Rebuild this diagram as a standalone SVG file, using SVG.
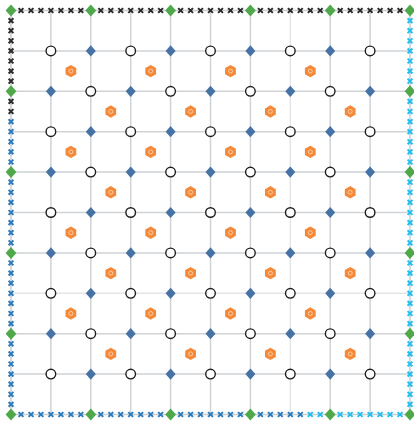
<svg xmlns="http://www.w3.org/2000/svg" xmlns:xlink="http://www.w3.org/1999/xlink" width="414" height="421" viewBox="0 0 414 421">
<style>
.grid line{stroke:#cfd3d6;stroke-width:1.5}
.grid line.lt{stroke:#e3e5e7}
.frame{fill:none;stroke:#c9cdd0;stroke-width:1.5}
.k{stroke:#2b2b2b}
.b{stroke:#2b7bbd}
.c{stroke:#22bfee}
</style>
<defs>
<circle id="ci" r="4.8" fill="#fff" stroke="#1e1e1e" stroke-width="1.4"/>
<path id="di" d="M0,-5.6L5,0L0,5.6L-5,0Z" fill="#4672a6"/>
<path id="gd" d="M0,-6L5.4,0L0,6L-5.4,0Z" fill="#4fa84a"/>
<g id="hx"><polygon points="0,-6.2 5.4,-3.1 5.4,3.1 0,6.2 -5.4,3.1 -5.4,-3.1" fill="#f5893a"/><circle r="2" fill="none" stroke="#fcd2ad" stroke-width="0.9"/></g>
<path id="xm" d="M-2.4,-2.4L2.4,2.4M2.4,-2.4L-2.4,2.4" stroke-width="2" fill="none"/>
</defs>
<rect width="414" height="421" fill="#fff"/>
<g id="grid" class="grid">
<line x1="50.9" y1="10.5" x2="50.9" y2="414.5"/>
<line x1="90.8" y1="10.5" x2="90.8" y2="414.5"/>
<line x1="130.7" y1="10.5" x2="130.7" y2="414.5"/>
<line x1="170.6" y1="10.5" x2="170.6" y2="414.5"/>
<line x1="210.5" y1="10.5" x2="210.5" y2="414.5"/>
<line x1="250.4" y1="10.5" x2="250.4" y2="414.5"/>
<line class="lt" x1="290.3" y1="10.5" x2="290.3" y2="414.5"/>
<line x1="330.2" y1="10.5" x2="330.2" y2="414.5"/>
<line x1="370.1" y1="10.5" x2="370.1" y2="414.5"/>
<line x1="11" y1="50.9" x2="410" y2="50.9"/>
<line x1="11" y1="91.3" x2="410" y2="91.3"/>
<line x1="11" y1="131.7" x2="410" y2="131.7"/>
<line x1="11" y1="172.1" x2="410" y2="172.1"/>
<line x1="11" y1="212.5" x2="410" y2="212.5"/>
<line x1="11" y1="252.9" x2="410" y2="252.9"/>
<line class="lt" x1="11" y1="293.3" x2="410" y2="293.3"/>
<line x1="11" y1="333.7" x2="410" y2="333.7"/>
<line x1="11" y1="374.1" x2="410" y2="374.1"/>
<rect class="frame" x="11" y="10.5" width="399" height="404"/>
</g>
<g id="edge-top" class="k">
<use href="#xm" x="21" y="10.5"/><use href="#xm" x="31" y="10.5"/><use href="#xm" x="40.9" y="10.5"/><use href="#xm" x="50.9" y="10.5"/><use href="#xm" x="60.9" y="10.5"/><use href="#xm" x="70.9" y="10.5"/><use href="#xm" x="80.8" y="10.5"/>
<use href="#xm" x="100.8" y="10.5"/><use href="#xm" x="110.8" y="10.5"/><use href="#xm" x="120.7" y="10.5"/><use href="#xm" x="130.7" y="10.5"/><use href="#xm" x="140.7" y="10.5"/><use href="#xm" x="150.7" y="10.5"/><use href="#xm" x="160.6" y="10.5"/>
<use href="#xm" x="180.6" y="10.5"/><use href="#xm" x="190.6" y="10.5"/><use href="#xm" x="200.5" y="10.5"/><use href="#xm" x="210.5" y="10.5"/><use href="#xm" x="220.5" y="10.5"/><use href="#xm" x="230.5" y="10.5"/><use href="#xm" x="240.4" y="10.5"/>
<use href="#xm" x="260.4" y="10.5"/><use href="#xm" x="270.4" y="10.5"/><use href="#xm" x="280.3" y="10.5"/><use href="#xm" x="290.3" y="10.5"/><use href="#xm" x="300.3" y="10.5"/><use href="#xm" x="310.3" y="10.5"/><use href="#xm" x="320.2" y="10.5"/>
<use href="#xm" x="340.2" y="10.5"/><use href="#xm" x="350.2" y="10.5"/><use href="#xm" x="360.1" y="10.5"/><use href="#xm" x="370.1" y="10.5"/><use href="#xm" x="380.1" y="10.5"/><use href="#xm" x="390.1" y="10.5"/><use href="#xm" x="400" y="10.5"/>
</g>
<g id="edge-left">
<g class="k">
<use href="#xm" x="11" y="20.6"/><use href="#xm" x="11" y="30.7"/><use href="#xm" x="11" y="40.8"/><use href="#xm" x="11" y="50.9"/><use href="#xm" x="11" y="61"/><use href="#xm" x="11" y="71.1"/><use href="#xm" x="11" y="81.2"/>
<use href="#xm" x="11" y="101.4"/><use href="#xm" x="11" y="111.5"/>
</g>
<g class="b">
<use href="#xm" x="11" y="121.6"/><use href="#xm" x="11" y="131.7"/><use href="#xm" x="11" y="141.8"/><use href="#xm" x="11" y="151.9"/><use href="#xm" x="11" y="162"/>
<use href="#xm" x="11" y="182.2"/><use href="#xm" x="11" y="192.3"/><use href="#xm" x="11" y="202.4"/><use href="#xm" x="11" y="212.5"/><use href="#xm" x="11" y="222.6"/><use href="#xm" x="11" y="232.7"/><use href="#xm" x="11" y="242.8"/>
<use href="#xm" x="11" y="263"/><use href="#xm" x="11" y="273.1"/><use href="#xm" x="11" y="283.2"/><use href="#xm" x="11" y="293.3"/><use href="#xm" x="11" y="303.4"/><use href="#xm" x="11" y="313.5"/><use href="#xm" x="11" y="323.6"/>
<use href="#xm" x="11" y="343.8"/><use href="#xm" x="11" y="353.9"/><use href="#xm" x="11" y="364"/><use href="#xm" x="11" y="374.1"/><use href="#xm" x="11" y="384.2"/><use href="#xm" x="11" y="394.3"/><use href="#xm" x="11" y="404.4"/>
</g>
</g>
<g id="edge-bottom">
<g class="b">
<use href="#xm" x="21" y="414.5"/><use href="#xm" x="31" y="414.5"/><use href="#xm" x="40.9" y="414.5"/><use href="#xm" x="50.9" y="414.5"/><use href="#xm" x="60.9" y="414.5"/><use href="#xm" x="70.9" y="414.5"/><use href="#xm" x="80.8" y="414.5"/>
<use href="#xm" x="100.8" y="414.5"/><use href="#xm" x="110.8" y="414.5"/><use href="#xm" x="120.7" y="414.5"/><use href="#xm" x="130.7" y="414.5"/><use href="#xm" x="140.7" y="414.5"/><use href="#xm" x="150.7" y="414.5"/><use href="#xm" x="160.6" y="414.5"/>
<use href="#xm" x="180.6" y="414.5"/><use href="#xm" x="190.6" y="414.5"/><use href="#xm" x="200.5" y="414.5"/><use href="#xm" x="210.5" y="414.5"/><use href="#xm" x="220.5" y="414.5"/><use href="#xm" x="230.5" y="414.5"/><use href="#xm" x="240.4" y="414.5"/>
<use href="#xm" x="260.4" y="414.5"/><use href="#xm" x="270.4" y="414.5"/><use href="#xm" x="280.3" y="414.5"/><use href="#xm" x="290.3" y="414.5"/><use href="#xm" x="300.3" y="414.5"/>
</g>
<g class="c">
<use href="#xm" x="310.3" y="414.5"/><use href="#xm" x="320.2" y="414.5"/>
<use href="#xm" x="340.2" y="414.5"/><use href="#xm" x="350.2" y="414.5"/><use href="#xm" x="360.1" y="414.5"/><use href="#xm" x="370.1" y="414.5"/><use href="#xm" x="380.1" y="414.5"/><use href="#xm" x="390.1" y="414.5"/><use href="#xm" x="400" y="414.5"/>
</g>
</g>
<g id="edge-right" class="c">
<use href="#xm" x="410" y="20.6"/><use href="#xm" x="410" y="30.7"/><use href="#xm" x="410" y="40.8"/><use href="#xm" x="410" y="50.9"/><use href="#xm" x="410" y="61"/><use href="#xm" x="410" y="71.1"/><use href="#xm" x="410" y="81.2"/>
<use href="#xm" x="410" y="101.4"/><use href="#xm" x="410" y="111.5"/><use href="#xm" x="410" y="121.6"/><use href="#xm" x="410" y="131.7"/><use href="#xm" x="410" y="141.8"/><use href="#xm" x="410" y="151.9"/><use href="#xm" x="410" y="162"/>
<use href="#xm" x="410" y="182.2"/><use href="#xm" x="410" y="192.3"/><use href="#xm" x="410" y="202.4"/><use href="#xm" x="410" y="212.5"/><use href="#xm" x="410" y="222.6"/><use href="#xm" x="410" y="232.7"/><use href="#xm" x="410" y="242.8"/>
<use href="#xm" x="410" y="263"/><use href="#xm" x="410" y="273.1"/><use href="#xm" x="410" y="283.2"/><use href="#xm" x="410" y="293.3"/><use href="#xm" x="410" y="303.4"/><use href="#xm" x="410" y="313.5"/><use href="#xm" x="410" y="323.6"/>
<use href="#xm" x="410" y="343.8"/><use href="#xm" x="410" y="353.9"/><use href="#xm" x="410" y="364"/><use href="#xm" x="410" y="374.1"/><use href="#xm" x="410" y="384.2"/><use href="#xm" x="410" y="394.3"/><use href="#xm" x="410" y="404.4"/>
</g>
<g id="corner-nodes">
<use href="#gd" x="11" y="10.5"/><use href="#gd" x="90.8" y="10.5"/><use href="#gd" x="170.6" y="10.5"/><use href="#gd" x="250.4" y="10.5"/><use href="#gd" x="330.2" y="10.5"/><use href="#gd" x="410" y="10.5"/>
<use href="#gd" x="11" y="414.5"/><use href="#gd" x="90.8" y="414.5"/><use href="#gd" x="170.6" y="414.5"/><use href="#gd" x="250.4" y="414.5"/><use href="#gd" x="330.2" y="414.5"/><use href="#gd" x="410" y="414.5"/>
<use href="#gd" x="11" y="91.3"/><use href="#gd" x="11" y="172.1"/><use href="#gd" x="11" y="252.9"/><use href="#gd" x="11" y="333.7"/>
<use href="#gd" x="410" y="91.3"/><use href="#gd" x="410" y="172.1"/><use href="#gd" x="410" y="252.9"/><use href="#gd" x="410" y="333.7"/>
</g>
<g id="hexes">
<g transform="translate(0,71.1)"><use href="#hx" x="70.9"/><use href="#hx" x="150.7"/><use href="#hx" x="230.5"/><use href="#hx" x="310.3"/></g>
<g transform="translate(0,111.5)"><use href="#hx" x="110.8"/><use href="#hx" x="190.6"/><use href="#hx" x="270.4"/><use href="#hx" x="350.2"/></g>
<g transform="translate(0,151.9)"><use href="#hx" x="70.9"/><use href="#hx" x="150.7"/><use href="#hx" x="230.5"/><use href="#hx" x="310.3"/></g>
<g transform="translate(0,192.3)"><use href="#hx" x="110.8"/><use href="#hx" x="190.6"/><use href="#hx" x="270.4"/><use href="#hx" x="350.2"/></g>
<g transform="translate(0,232.7)"><use href="#hx" x="70.9"/><use href="#hx" x="150.7"/><use href="#hx" x="230.5"/><use href="#hx" x="310.3"/></g>
<g transform="translate(0,273.1)"><use href="#hx" x="110.8"/><use href="#hx" x="190.6"/><use href="#hx" x="270.4"/><use href="#hx" x="350.2"/></g>
<g transform="translate(0,313.5)"><use href="#hx" x="70.9"/><use href="#hx" x="150.7"/><use href="#hx" x="230.5"/><use href="#hx" x="310.3"/></g>
<g transform="translate(0,353.9)"><use href="#hx" x="110.8"/><use href="#hx" x="190.6"/><use href="#hx" x="270.4"/><use href="#hx" x="350.2"/></g>
</g>
<g id="odd-rows">
<g transform="translate(0,50.9)"><use href="#ci" x="50.9"/><use href="#di" x="90.8"/><use href="#ci" x="130.7"/><use href="#di" x="170.6"/><use href="#ci" x="210.5"/><use href="#di" x="250.4"/><use href="#ci" x="290.3"/><use href="#di" x="330.2"/><use href="#ci" x="370.1"/></g>
<g transform="translate(0,131.7)"><use href="#ci" x="50.9"/><use href="#di" x="90.8"/><use href="#ci" x="130.7"/><use href="#di" x="170.6"/><use href="#ci" x="210.5"/><use href="#di" x="250.4"/><use href="#ci" x="290.3"/><use href="#di" x="330.2"/><use href="#ci" x="370.1"/></g>
<g transform="translate(0,212.5)"><use href="#ci" x="50.9"/><use href="#di" x="90.8"/><use href="#ci" x="130.7"/><use href="#di" x="170.6"/><use href="#ci" x="210.5"/><use href="#di" x="250.4"/><use href="#ci" x="290.3"/><use href="#di" x="330.2"/><use href="#ci" x="370.1"/></g>
<g transform="translate(0,293.3)"><use href="#ci" x="50.9"/><use href="#di" x="90.8"/><use href="#ci" x="130.7"/><use href="#di" x="170.6"/><use href="#ci" x="210.5"/><use href="#di" x="250.4"/><use href="#ci" x="290.3"/><use href="#di" x="330.2"/><use href="#ci" x="370.1"/></g>
<g transform="translate(0,374.1)"><use href="#ci" x="50.9"/><use href="#di" x="90.8"/><use href="#ci" x="130.7"/><use href="#di" x="170.6"/><use href="#ci" x="210.5"/><use href="#di" x="250.4"/><use href="#ci" x="290.3"/><use href="#di" x="330.2"/><use href="#ci" x="370.1"/></g>
</g>
<g id="even-rows">
<g transform="translate(0,91.3)"><use href="#di" x="50.9"/><use href="#ci" x="90.8"/><use href="#di" x="130.7"/><use href="#ci" x="170.6"/><use href="#di" x="210.5"/><use href="#ci" x="250.4"/><use href="#di" x="290.3"/><use href="#ci" x="330.2"/><use href="#di" x="370.1"/></g>
<g transform="translate(0,172.1)"><use href="#di" x="50.9"/><use href="#ci" x="90.8"/><use href="#di" x="130.7"/><use href="#ci" x="170.6"/><use href="#di" x="210.5"/><use href="#ci" x="250.4"/><use href="#di" x="290.3"/><use href="#ci" x="330.2"/><use href="#di" x="370.1"/></g>
<g transform="translate(0,252.9)"><use href="#di" x="50.9"/><use href="#ci" x="90.8"/><use href="#di" x="130.7"/><use href="#ci" x="170.6"/><use href="#di" x="210.5"/><use href="#ci" x="250.4"/><use href="#di" x="290.3"/><use href="#ci" x="330.2"/><use href="#di" x="370.1"/></g>
<g transform="translate(0,333.7)"><use href="#di" x="50.9"/><use href="#ci" x="90.8"/><use href="#di" x="130.7"/><use href="#ci" x="170.6"/><use href="#di" x="210.5"/><use href="#ci" x="250.4"/><use href="#di" x="290.3"/><use href="#ci" x="330.2"/><use href="#di" x="370.1"/></g>
</g>
</svg>
